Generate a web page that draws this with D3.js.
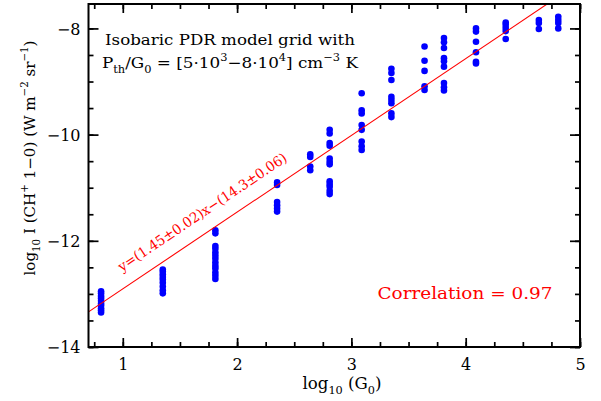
<!DOCTYPE html>
<html>
<head>
<meta charset="utf-8">
<script src="https://cdn.jsdelivr.net/npm/d3@7"></script>
<style>
  body { margin: 0; background: #fff; }
  text { font-family: "DejaVu Serif", serif; fill: #000; }
</style>
</head>
<body>
<div id="chart"></div>
<script>
// log10 G0 of each model column
const logG0 = [0.81, 1.35, 1.81, 2.35, 2.64, 2.81, 3.09, 3.35, 3.64, 3.81, 4.09, 4.35, 4.64, 4.81]

// log10 I(CH+ 1-0) for the models in each column
const logI = [
    [-12.95, -12.99, -13.04, -13.08, -13.13, -13.18, -13.22, -13.27, -13.31, -13.35],
    [-12.54, -12.58, -12.63, -12.68, -12.73, -12.79, -12.86, -12.93, -12.99],
    [-11.80, -11.86, -12.10, -12.15, -12.22, -12.28, -12.34, -12.41, -12.47, -12.52, -12.60, -12.66, -12.72],
    [-10.90, -10.95, -11.27, -11.33, -11.39, -11.45],
    [-10.37, -10.42, -10.60, -10.67],
    [-9.91, -9.98, -10.16, -10.21, -10.45, -10.51, -10.56, -10.88, -10.93, -10.98, -11.06, -11.12],
    [-9.22, -9.54, -9.60, -9.82, -9.91, -10.13, -10.22, -10.29],
    [-8.76, -8.84, -8.97, -9.29, -9.35, -9.41, -9.60, -9.67],
    [-8.34, -8.61, -8.80, -9.09, -9.16],
    [-8.18, -8.26, -8.37, -8.56, -8.62, -8.72, -9.03, -9.11, -9.17],
    [-8.00, -8.06, -8.25, -8.45, -8.63, -8.66],
    [-7.89, -7.93, -7.99, -8.05, -8.20],
    [-7.84, -7.90, -8.01],
    [-7.78, -7.84, -7.90, -8.00]
]

// linear fit drawn as the red line
const fitSlope = 1.445
const fitIntercept = -14.35
const fitLabel = 'y=(1.45±0.02)x−(14.3±0.06)'
const corrLabel = 'Correlation = 0.97'

const xMajor = [1, 2, 3, 4, 5]
const xMinor = d3.range(0.75, 5.01, 0.25)
const yMajor = [-14, -12, -10, -8]
const yMinor = d3.range(-14, -7.5, 0.5)

const width = 601, height = 401
const margin = { top: 4, right: 21, bottom: 54, left: 88.5 }

const svg = d3.select('#chart').append('svg')
    .attr('width', width)
    .attr('height', height)

const xScale = d3.scaleLinear().domain([0.7, 5]).range([margin.left, width - margin.right])
const yScale = d3.scaleLinear().domain([-14, -7.54]).range([height - margin.bottom, margin.top])

const x0 = xScale.range()[0], x1 = xScale.range()[1]
const y0 = yScale.range()[1], y1 = yScale.range()[0]

// write text with sub/superscripts, parts = [[string, 'sub'|'sup'|null], ...]
function richText(sel, parts, size) {
    let cur = 0
    parts.forEach(([str, mode]) => {
        let want = 0
        if (mode === 'sub') want = size * 0.32
        if (mode === 'sup') want = -size * 0.45
        const t = sel.append('tspan').text(str).attr('dy', want - cur)
        if (mode) t.attr('font-size', size * 0.68)
        cur = want
    })
}

// clip for the fit line
svg.append('clipPath').attr('id', 'plot-clip')
    .append('rect')
    .attr('x', x0).attr('y', y0)
    .attr('width', x1 - x0).attr('height', y1 - y0)

// points
const points = []
logG0.forEach((g, i) => logI[i].forEach(v => points.push({ g, v })))

svg.append('g')
    .selectAll('circle')
    .data(points)
    .join('circle')
    .attr('cx', d => xScale(d.g))
    .attr('cy', d => yScale(d.v))
    .attr('r', 3.3)
    .attr('fill', '#0000ff')

// fit line
const fitX = xScale.domain()
svg.append('line')
    .attr('clip-path', 'url(#plot-clip)')
    .attr('x1', xScale(fitX[0])).attr('y1', yScale(fitSlope * fitX[0] + fitIntercept))
    .attr('x2', xScale(fitX[1])).attr('y2', yScale(fitSlope * fitX[1] + fitIntercept))
    .attr('stroke', '#ff0000')
    .attr('stroke-width', 1.1)

// axes: ticks pointing inward on all four sides
function drawAxis(axisFn, scale, values, size, transform, labels) {
    const ax = axisFn(scale).tickValues(values).tickSizeInner(-size).tickSizeOuter(0)
    if (labels) ax.tickFormat(d3.format('d'))
    else ax.tickFormat('')
    const g = svg.append('g').attr('transform', transform).call(ax)
    g.select('.domain').remove()
    g.selectAll('.tick line').attr('stroke', '#000').attr('stroke-width', 1.7)
    return g
}

const bottom = drawAxis(d3.axisBottom, xScale, xMajor, 9, `translate(0,${y1})`, true)
bottom.selectAll('.tick text')
    .attr('font-size', 16).attr('font-family', '"DejaVu Serif", serif')
    .attr('y', 11).attr('dy', '0.73em')
drawAxis(d3.axisBottom, xScale, xMinor, 5, `translate(0,${y1})`, false)
drawAxis(d3.axisTop, xScale, xMajor, 9, `translate(0,${y0})`, false)
drawAxis(d3.axisTop, xScale, xMinor, 5, `translate(0,${y0})`, false)

const left = drawAxis(d3.axisLeft, yScale, yMajor, 10, `translate(${x0},0)`, true)
left.selectAll('.tick text')
    .attr('font-size', 16).attr('font-family', '"DejaVu Serif", serif')
    .attr('x', -8).attr('dy', '0.36em')
drawAxis(d3.axisLeft, yScale, yMinor, 5, `translate(${x0},0)`, false)
drawAxis(d3.axisRight, yScale, yMajor, 10, `translate(${x1},0)`, false)
drawAxis(d3.axisRight, yScale, yMinor, 5, `translate(${x1},0)`, false)

// frame
svg.append('rect')
    .attr('x', x0).attr('y', y0)
    .attr('width', x1 - x0).attr('height', y1 - y0)
    .attr('fill', 'none')
    .attr('stroke', '#000')
    .attr('stroke-width', 2)

// axis titles
const xTitle = svg.append('text')
    .attr('x', 342).attr('y', 389)
    .attr('text-anchor', 'middle')
    .attr('font-size', 16)
    .attr('textLength', 79).attr('lengthAdjust', 'spacingAndGlyphs')
richText(xTitle, [['log', null], ['10', 'sub'], [' (G', null], ['0', 'sub'], [')', null]], 16)

const yTitle = svg.append('text')
    .attr('transform', 'translate(35,158) rotate(-90)')
    .attr('text-anchor', 'middle')
    .attr('font-size', 15)
    .attr('textLength', 235).attr('lengthAdjust', 'spacingAndGlyphs')
richText(yTitle, [
    ['log', null], ['10', 'sub'], [' I (CH', null], ['+', 'sup'], [' 1−0) (W m', null],
    ['−2', 'sup'], [' sr', null], ['−1', 'sup'], [')', null]
], 15)

// annotation in the upper left
svg.append('text')
    .attr('x', 230).attr('y', 45)
    .attr('text-anchor', 'middle')
    .attr('font-size', 15)
    .attr('textLength', 250).attr('lengthAdjust', 'spacingAndGlyphs')
    .text('Isobaric PDR model grid with')

const line2 = svg.append('text')
    .attr('x', 230).attr('y', 68)
    .attr('text-anchor', 'middle')
    .attr('font-size', 15)
    .attr('textLength', 256).attr('lengthAdjust', 'spacingAndGlyphs')
richText(line2, [
    ['P', null], ['th', 'sub'], ['/G', null], ['0', 'sub'], [' = [5·10', null], ['3', 'sup'],
    ['−8·10', null], ['4', 'sup'], ['] cm', null], ['−3', 'sup'], [' K', null]
], 15)

// fit label, parallel to the fit line
const angle = Math.atan2(
    yScale(fitSlope * 1 + fitIntercept) - yScale(fitSlope * 2 + fitIntercept),
    xScale(2) - xScale(1)) * 180 / Math.PI
const lx = 1.064
svg.append('text')
    .attr('transform', `translate(${xScale(lx)},${yScale(fitSlope * lx + fitIntercept)}) rotate(${-angle})`)
    .attr('x', 0).attr('y', -14.5)
    .attr('font-size', 14)
    .attr('textLength', 200).attr('lengthAdjust', 'spacingAndGlyphs')
    .style('fill', '#ff0000')
    .text(fitLabel)

// correlation
svg.append('text')
    .attr('x', 465).attr('y', 299)
    .attr('text-anchor', 'middle')
    .attr('font-size', 16)
    .attr('textLength', 175).attr('lengthAdjust', 'spacingAndGlyphs')
    .style('fill', '#ff0000')
    .text(corrLabel)
</script>
</body>
</html>
